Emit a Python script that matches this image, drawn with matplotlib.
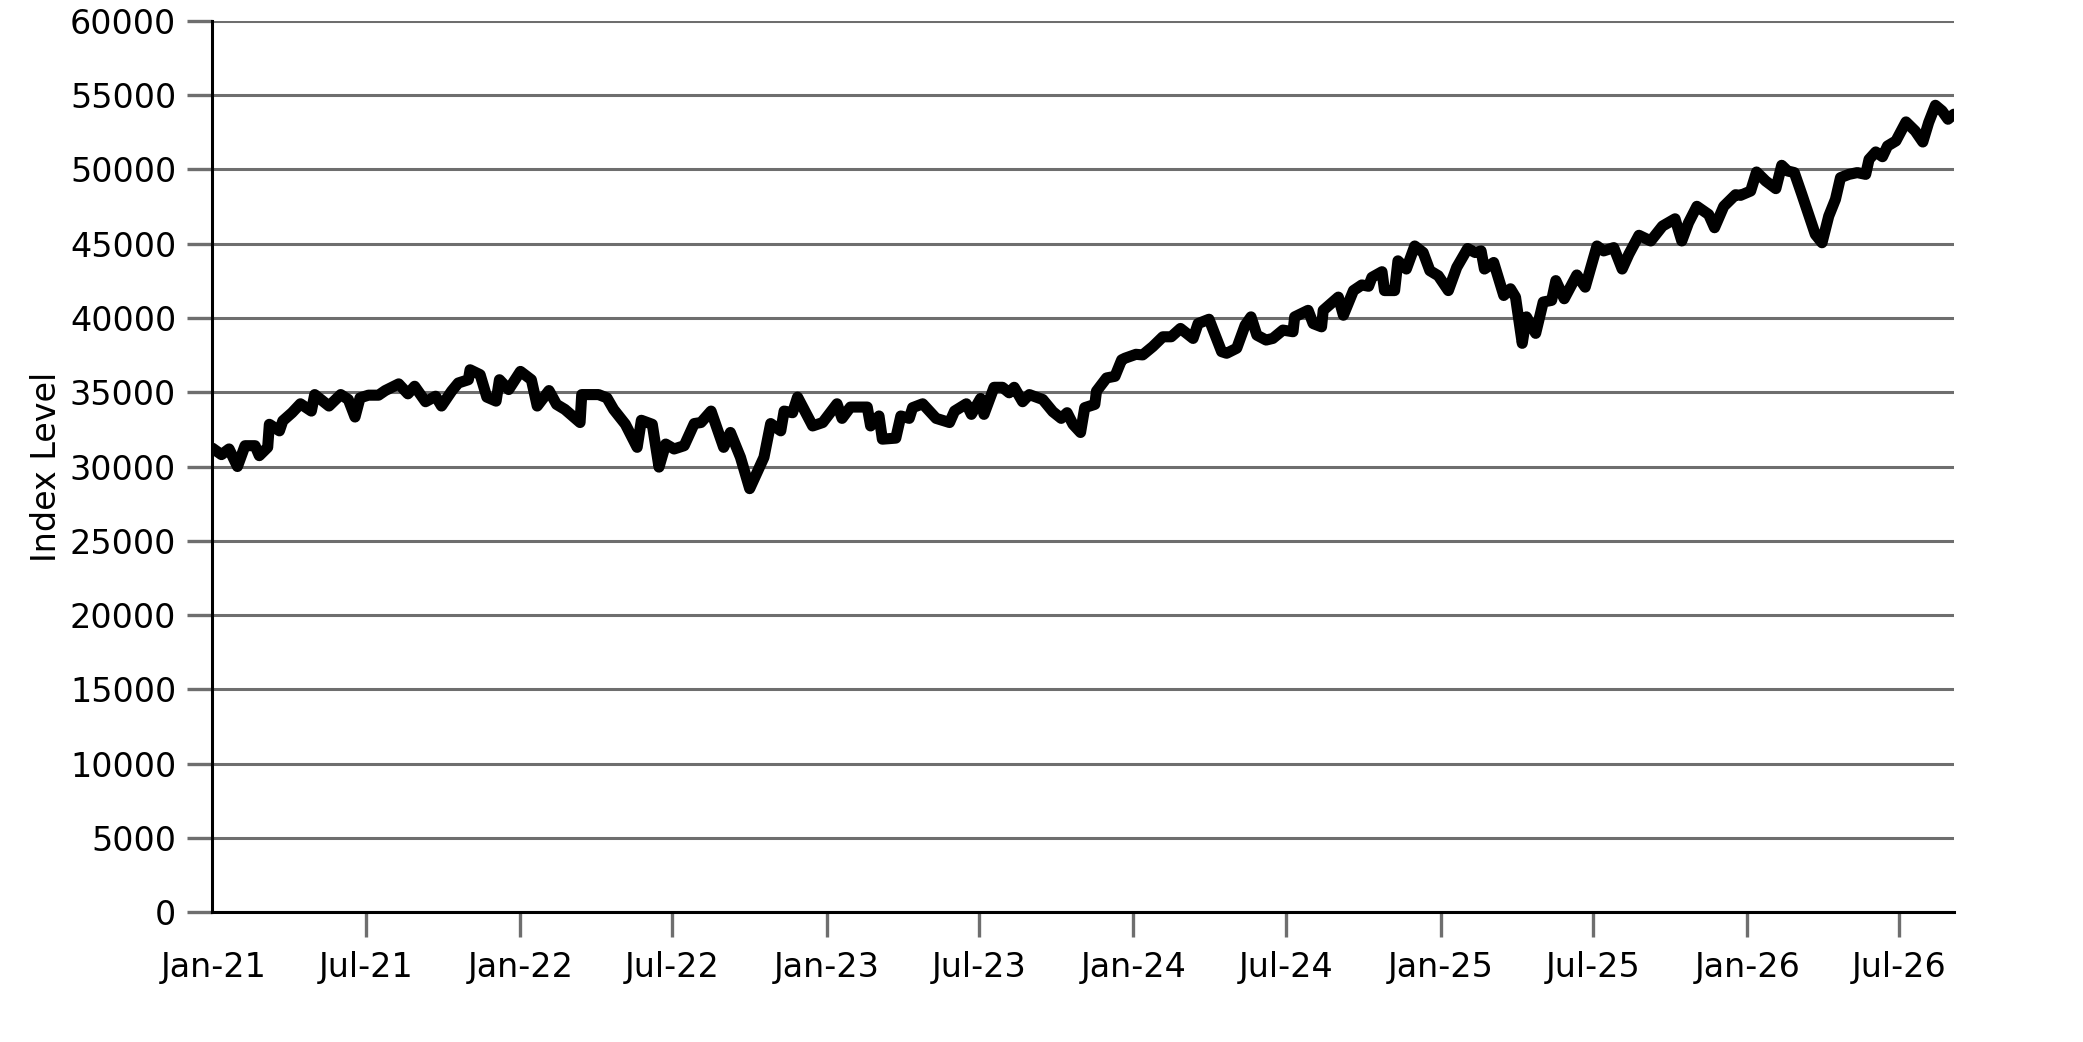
import matplotlib
matplotlib.use("Agg")
import matplotlib.pyplot as plt
import pandas as pd

plt.rcParams['font.family'] = ['DejaVu Sans']

dates = [
    "2020-12-30", "2021-01-10", "2021-01-19", "2021-01-29", "2021-02-07", "2021-02-19",
    "2021-02-24", "2021-03-06", "2021-03-08", "2021-03-20", "2021-03-24", "2021-04-04",
    "2021-04-14", "2021-04-27", "2021-05-01", "2021-05-18", "2021-06-01", "2021-06-10",
    "2021-06-18", "2021-06-24", "2021-07-04", "2021-07-16", "2021-07-24", "2021-08-09",
    "2021-08-20", "2021-08-28", "2021-09-10", "2021-09-22", "2021-09-29", "2021-10-11",
    "2021-10-19", "2021-10-31", "2021-11-02", "2021-11-14", "2021-11-22", "2021-12-03",
    "2021-12-07", "2021-12-18", "2022-01-01",
    "2022-01-14", "2022-01-21", "2022-02-04", "2022-02-13", "2022-02-23", "2022-03-13",
    "2022-03-15", "2022-04-04", "2022-04-14", "2022-04-22", "2022-05-06", "2022-05-20",
    "2022-05-25", "2022-06-07", "2022-06-15", "2022-06-23", "2022-07-03", "2022-07-15",
    "2022-07-27", "2022-08-04", "2022-08-16", "2022-08-31", "2022-09-08", "2022-09-20",
    "2022-10-01", "2022-10-18", "2022-10-26", "2022-11-07", "2022-11-11", "2022-11-21",
    "2022-11-27", "2022-12-15", "2022-12-27",
    "2023-01-13", "2023-01-19", "2023-01-29", "2023-02-18", "2023-02-22", "2023-03-04",
    "2023-03-08", "2023-03-24", "2023-03-30", "2023-04-09", "2023-04-13", "2023-04-25",
    "2023-05-11", "2023-05-27", "2023-06-02", "2023-06-16", "2023-06-22", "2023-07-03",
    "2023-07-07", "2023-07-19", "2023-07-29", "2023-08-06", "2023-08-12", "2023-08-22",
    "2023-08-30", "2023-09-15", "2023-09-27", "2023-10-07", "2023-10-14", "2023-10-21",
    "2023-10-30", "2023-11-04", "2023-11-16", "2023-11-18", "2023-11-30", "2023-12-10",
    "2023-12-18", "2023-12-22", "2024-01-04",
    "2024-01-12", "2024-01-24", "2024-02-05", "2024-02-15", "2024-02-26", "2024-03-12",
    "2024-03-18", "2024-03-31", "2024-04-15", "2024-04-21", "2024-05-03", "2024-05-13",
    "2024-05-20", "2024-05-27", "2024-06-07", "2024-06-15", "2024-06-27", "2024-07-09",
    "2024-07-11", "2024-07-27", "2024-08-02", "2024-08-12", "2024-08-14", "2024-09-01",
    "2024-09-07", "2024-09-19", "2024-09-29", "2024-10-07", "2024-10-11", "2024-10-23",
    "2024-10-26", "2024-11-07", "2024-11-11", "2024-11-21", "2024-12-01", "2024-12-11",
    "2024-12-19", "2024-12-29", "2025-01-10",
    "2025-01-20", "2025-02-02", "2025-02-11", "2025-02-18", "2025-02-22", "2025-03-05",
    "2025-03-17", "2025-03-25", "2025-03-31", "2025-04-08", "2025-04-13", "2025-04-24",
    "2025-05-03", "2025-05-13", "2025-05-18", "2025-05-28", "2025-06-12", "2025-06-22",
    "2025-07-06", "2025-07-14", "2025-07-26", "2025-08-05", "2025-08-13", "2025-08-25",
    "2025-09-08", "2025-09-22", "2025-10-07", "2025-10-15", "2025-10-23", "2025-11-02",
    "2025-11-16", "2025-11-23", "2025-12-04", "2025-12-18", "2025-12-24",
    "2026-01-05", "2026-01-12", "2026-01-23", "2026-02-04", "2026-02-11", "2026-02-18",
    "2026-02-26", "2026-03-07", "2026-03-17", "2026-03-23", "2026-03-31", "2026-04-08",
    "2026-04-16", "2026-04-22", "2026-05-02", "2026-05-12", "2026-05-22", "2026-05-26",
    "2026-06-03", "2026-06-11", "2026-06-17", "2026-06-27", "2026-07-09", "2026-07-20",
    "2026-07-29", "2026-08-05", "2026-08-13", "2026-08-21", "2026-08-28", "2026-09-04",
]

index_level = [
    31240, 30800, 31180, 30000, 31400, 31400,
    30730, 31290, 32840, 32400, 33070, 33620,
    34220, 33730, 34840, 34070, 34840, 34510,
    33330, 34620, 34800, 34800, 35110, 35560,
    34890, 35400, 34360, 34730, 34070, 35070,
    35620, 35840, 36510, 36180, 34670, 34400,
    35840, 35180, 36400,
    35840, 34070, 35110, 34180, 33840, 32960,
    34840, 34840, 34620, 33840, 32840, 31290,
    33110, 32840, 29960, 31510, 31180, 31400,
    32890, 32960, 33730, 31290, 32290, 30620,
    28510, 30620, 32890, 32400, 33730, 33620,
    34670, 32730, 32960,
    34220, 33240, 34000, 34000, 32730, 33400,
    31840, 31910, 33400, 33240, 33960, 34220,
    33240, 32960, 33730, 34220, 33510, 34580,
    33510, 35330, 35330, 34960, 35330, 34360,
    34840, 34510, 33690, 33240, 33620, 32840,
    32290, 33960, 34180, 35070, 35960, 36070,
    37180, 37290, 37550,
    37510, 38070, 38730, 38730, 39290, 38620,
    39620, 39910, 37730, 37620, 37960, 39510,
    40070, 38840, 38510, 38620, 39180, 39070,
    40070, 40510, 39620, 39400, 40510, 41400,
    40180, 41840, 42220, 42130, 42730, 43110,
    41840, 41840, 43840, 43290, 44840, 44400,
    43180, 42840, 41840,
    43400, 44670, 44400, 44510, 43290, 43730,
    41510, 41960, 41400, 38290, 40070, 38960,
    41070, 41180, 42510, 41290, 42890, 42070,
    44840, 44510, 44730, 43290, 44290, 45560,
    45180, 46180, 46670, 45180, 46400, 47510,
    46960, 46070, 47510, 48290, 48250,
    48540, 49820, 49210, 48700, 50270, 49890,
    49780, 48310, 46630, 45620, 45060, 46850,
    47980, 49440, 49660, 49780, 49660, 50670,
    51170, 50850, 51570, 51910, 53190, 52580,
    51840, 53150, 54310, 53930, 53370, 53710,
]

y_ticks = [0, 5000, 10000, 15000, 20000, 25000, 30000, 35000,
           40000, 45000, 50000, 55000, 60000]
x_tick_dates = ["2021-01-01", "2021-07-01", "2022-01-01", "2022-07-01",
                "2023-01-01", "2023-07-01", "2024-01-01", "2024-07-01",
                "2025-01-01", "2025-07-01", "2026-01-01", "2026-07-01"]
x_tick_labels = ["Jan-21", "Jul-21", "Jan-22", "Jul-22", "Jan-23", "Jul-23",
                 "Jan-24", "Jul-24", "Jan-25", "Jul-25", "Jan-26", "Jul-26"]
y_label = "Index Level"

x = pd.to_datetime(dates)
xt = pd.to_datetime(x_tick_dates)

fig = plt.figure(figsize=(10.415, 5.21), dpi=200)
ax = fig.add_axes([0.1019, 0.1245, 0.8361, 0.8556])

grid_color = "#6e6e6e"
ax.plot(x, index_level, color="black", linewidth=4.0,
        solid_joinstyle="round", solid_capstyle="round", zorder=3)

ax.set_xlim(x[0], x[-1])
ax.set_ylim(y_ticks[0], y_ticks[-1])
ax.set_yticks(y_ticks)
ax.set_yticklabels([str(v) for v in y_ticks])
ax.set_xticks(xt)
ax.set_xticklabels(x_tick_labels)

ax.yaxis.grid(True, color=grid_color, linewidth=1.1)
ax.xaxis.grid(False)
ax.set_axisbelow(True)

for side in ("top", "right"):
    ax.spines[side].set_visible(False)
for side in ("left", "bottom"):
    ax.spines[side].set_color("black")
    ax.spines[side].set_linewidth(1.1)

ax.tick_params(axis="both", which="major", direction="out", length=9,
               width=1.2, color=grid_color, labelsize=12, labelcolor="black")
ax.tick_params(axis="x", pad=5)
ax.tick_params(axis="y", pad=4)

# first x tick mark sits under the spine corner in the reference (not drawn)
ax.xaxis.get_major_ticks()[0].tick1line.set_visible(False)

ax.set_ylabel(y_label, fontsize=12, labelpad=2.5)

fig.savefig("out.png", dpi=200)
